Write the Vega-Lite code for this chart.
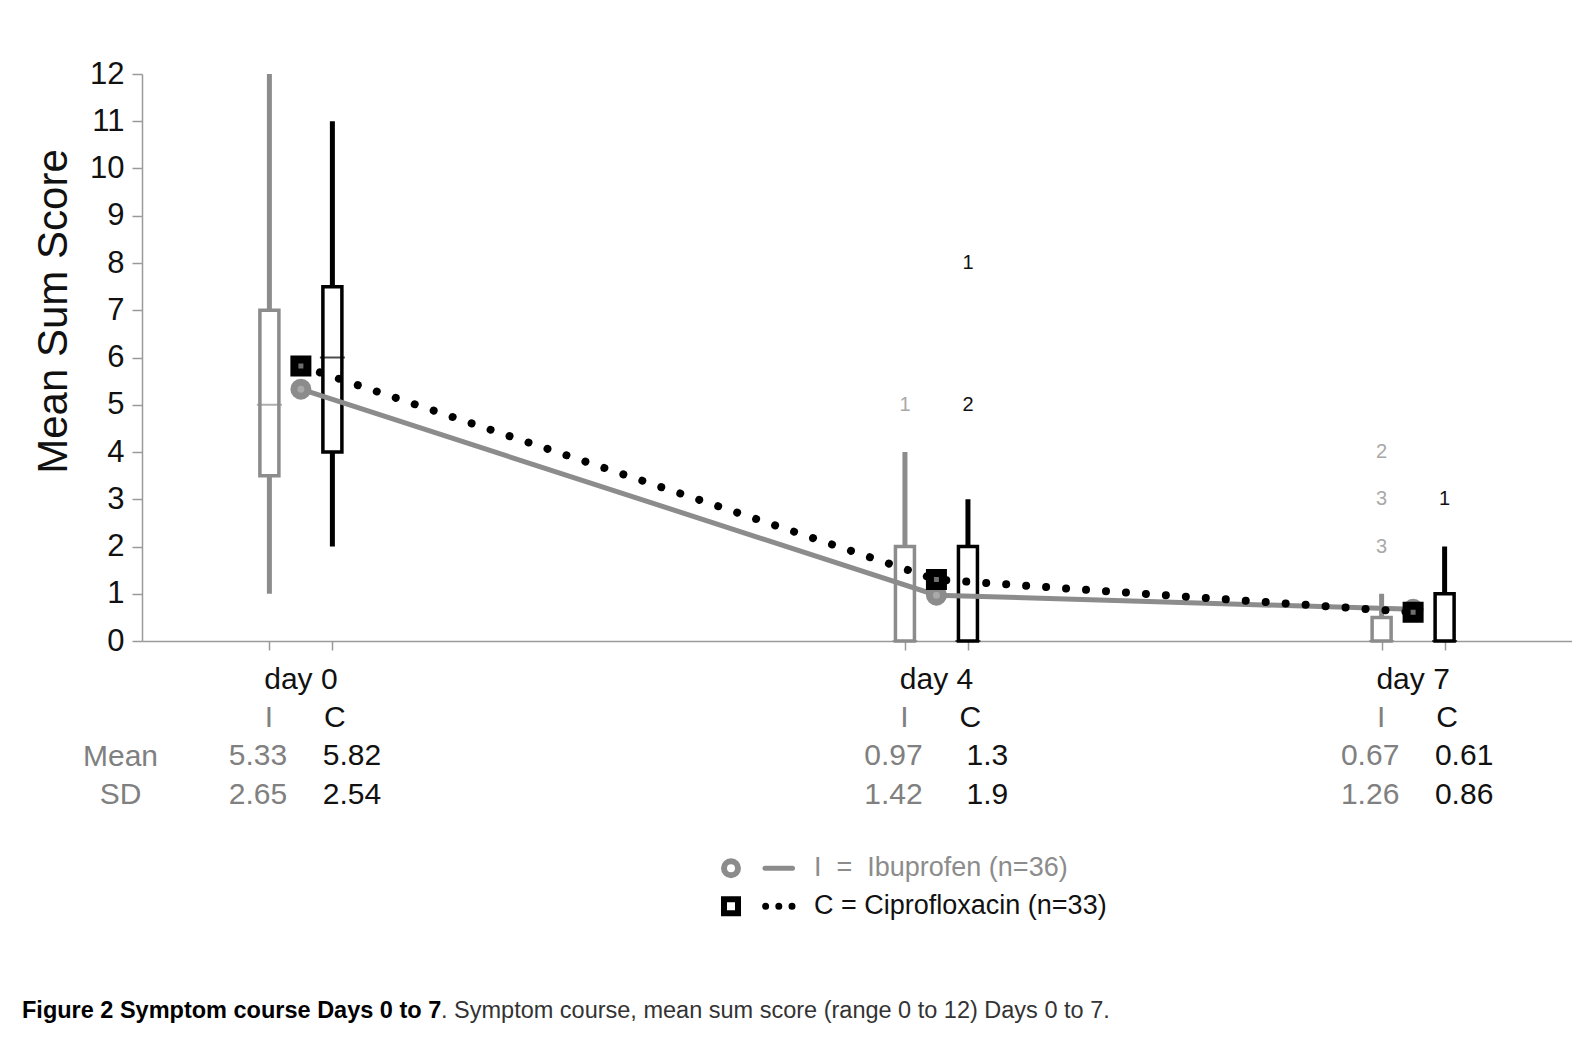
{
  "$schema": "https://vega.github.io/schema/vega-lite/v6.json",
  "padding": {"left": 22, "top": 58, "right": 0, "bottom": 0},
  "background": "white",
  "spacing": 35,
  "bounds": "flush",
  "config": {"view": {"stroke": null}, "font": "Liberation Sans"},
  "resolve": {"scale": {"x": "independent", "y": "independent", "color": "independent", "xOffset": "independent", "stroke": "independent", "shape": "independent", "fill": "independent"}},
  "datasets": {
    "boxes": [
      {"day": 0, "drug": "I", "lo": 1, "q1": 3.5, "med": 5, "q3": 7, "hi": 12},
      {"day": 0, "drug": "C", "lo": 2, "q1": 4, "med": 6, "q3": 7.5, "hi": 11},
      {"day": 4, "drug": "I", "lo": 0, "q1": 0, "med": 0, "q3": 2, "hi": 4},
      {"day": 4, "drug": "C", "lo": 0, "q1": 0, "med": 0, "q3": 2, "hi": 3},
      {"day": 7, "drug": "I", "lo": 0, "q1": 0, "med": 0, "q3": 0.5, "hi": 1},
      {"day": 7, "drug": "C", "lo": 0, "q1": 0, "med": 0, "q3": 1, "hi": 2}
    ],
    "means": [
      {"day": 0, "drug": "I", "mean": 5.33, "sd": 2.65},
      {"day": 0, "drug": "C", "mean": 5.82, "sd": 2.54},
      {"day": 4, "drug": "I", "mean": 0.97, "sd": 1.42},
      {"day": 4, "drug": "C", "mean": 1.3, "sd": 1.9},
      {"day": 7, "drug": "I", "mean": 0.67, "sd": 1.26},
      {"day": 7, "drug": "C", "mean": 0.61, "sd": 0.86}
    ],
    "outliers": [
      {"day": 4, "drug": "I", "score": 5, "n": 1},
      {"day": 4, "drug": "C", "score": 5, "n": 2},
      {"day": 4, "drug": "C", "score": 8, "n": 1},
      {"day": 7, "drug": "I", "score": 2, "n": 3},
      {"day": 7, "drug": "I", "score": 3, "n": 3},
      {"day": 7, "drug": "I", "score": 4, "n": 2},
      {"day": 7, "drug": "C", "score": 3, "n": 1}
    ],
    "days": [
      {"day": 0, "label": "day 0"},
      {"day": 4, "label": "day 4"},
      {"day": 7, "label": "day 7"}
    ],
    "legend": [
      {"drug": "I", "label": "I\u00a0\u00a0=\u00a0\u00a0Ibuprofen (n=36)"},
      {"drug": "C", "label": "C = Ciprofloxacin (n=33)"}
    ],
    "caption": [
      {"part": "head", "text": "Figure 2 Symptom course Days 0 to 7"},
      {"part": "body", "text": ". Symptom course, mean sum score (range 0 to 12) Days 0 to 7."}
    ]
  },
  "vconcat": [
    {
      "width": 1430,
      "height": 567,
      "resolve": {"axis": {"x": "independent"}},
      "layer": [
        {
          "data": {"name": "boxes"},
          "mark": {"type": "rule", "strokeWidth": 5},
          "encoding": {
            "x": {"field": "day", "type": "ordinal", "scale": {"type": "point", "domain": [-1, 0, 1, 2, 3, 4, 5, 6, 7, 8], "padding": 0},
                  "axis": {"orient": "bottom", "values": [0, 4, 7], "tickOffset": -31.5, "labels": false, "tickSize": 9, "tickColor": "#9a9a9a", "tickWidth": 1.5, "domainColor": "#9a9a9a", "domainWidth": 1.5, "title": null, "grid": false}},
            "xOffset": {"field": "drug", "type": "nominal", "scale": {"type": "point", "domain": ["I", "C"], "range": [-31.5, 31.5], "padding": 0}},
            "y": {"field": "lo", "type": "quantitative", "scale": {"domain": [0, 12], "nice": false, "zero": true},
                  "axis": {"values": [0, 1, 2, 3, 4, 5, 6, 7, 8, 9, 10, 11, 12], "domainColor": "#9a9a9a", "domainWidth": 1.5, "tickColor": "#9a9a9a", "tickSize": 10, "tickWidth": 1.5, "labelFontSize": 31, "labelColor": "#111111", "labelPadding": 8, "labelFont": "Liberation Sans", "grid": false,
                           "title": "Mean Sum Score", "titleFontSize": 42, "titleFontWeight": "normal", "titleColor": "#111111", "titleFont": "Liberation Sans", "titleX": -89, "titleY": 237, "titleAngle": -90, "titleBaseline": "middle", "titleAlign": "center"}},
            "y2": {"field": "hi"},
            "color": {"field": "drug", "type": "nominal", "scale": {"domain": ["I", "C"], "range": ["#8c8c8c", "#000000"]}, "legend": null}
          }
        },
        {
          "data": {"name": "boxes"},
          "mark": {"type": "bar", "width": 19, "fill": "white", "strokeWidth": 3.5, "orient": "vertical"},
          "encoding": {
            "x": {"field": "day", "type": "ordinal", "scale": {"type": "point", "domain": [-1, 0, 1, 2, 3, 4, 5, 6, 7, 8], "padding": 0},
                  "axis": {"orient": "bottom", "values": [0, 4, 7], "tickOffset": 31.5, "labels": false, "domain": false, "tickSize": 9, "tickColor": "#9a9a9a", "tickWidth": 1.5, "title": null, "grid": false}},
            "xOffset": {"field": "drug", "type": "nominal", "scale": {"type": "point", "domain": ["I", "C"], "range": [-31.5, 31.5], "padding": 0}},
            "y": {"field": "q1", "type": "quantitative"},
            "y2": {"field": "q3"},
            "stroke": {"field": "drug", "type": "nominal", "scale": {"domain": ["I", "C"], "range": ["#8c8c8c", "#000000"]}, "legend": null}
          }
        },
        {
          "data": {"name": "boxes"},
          "mark": {"type": "tick", "orient": "horizontal", "size": 25, "thickness": 2},
          "encoding": {
            "x": {"field": "day", "type": "ordinal", "scale": {"type": "point", "domain": [-1, 0, 1, 2, 3, 4, 5, 6, 7, 8], "padding": 0}, "axis": null},
            "xOffset": {"field": "drug", "type": "nominal", "scale": {"type": "point", "domain": ["I", "C"], "range": [-31.5, 31.5], "padding": 0}},
            "y": {"field": "med", "type": "quantitative"},
            "color": {"field": "drug", "type": "nominal", "legend": null}
          }
        },
        {
          "data": {"name": "means"},
          "transform": [{"filter": "datum.drug === 'I'"}],
          "mark": {"type": "line", "color": "#8c8c8c", "strokeWidth": 5},
          "encoding": {"x": {"field": "day", "type": "ordinal", "scale": {"type": "point", "domain": [-1, 0, 1, 2, 3, 4, 5, 6, 7, 8], "padding": 0}, "axis": null}, "y": {"field": "mean", "type": "quantitative"}}
        },
        {
          "data": {"name": "means"},
          "transform": [{"filter": "datum.drug === 'C'"}],
          "mark": {"type": "line", "color": "#000000", "strokeWidth": 8, "strokeDash": [0.01, 20], "strokeCap": "round"},
          "encoding": {"x": {"field": "day", "type": "ordinal", "scale": {"type": "point", "domain": [-1, 0, 1, 2, 3, 4, 5, 6, 7, 8], "padding": 0}, "axis": null}, "y": {"field": "mean", "type": "quantitative"}}
        },
        {
          "data": {"name": "means"},
          "transform": [{"filter": "datum.drug === 'I'"}],
          "mark": {"type": "point", "shape": "circle", "fill": "#a9a9a9", "stroke": "#8c8c8c", "strokeWidth": 7, "size": 196, "opacity": 1},
          "encoding": {"x": {"field": "day", "type": "ordinal", "scale": {"type": "point", "domain": [-1, 0, 1, 2, 3, 4, 5, 6, 7, 8], "padding": 0}, "axis": null}, "y": {"field": "mean", "type": "quantitative"}}
        },
        {
          "data": {"name": "means"},
          "transform": [{"filter": "datum.drug === 'C'"}],
          "mark": {"type": "point", "shape": "square", "fill": "#6e6e6e", "stroke": "#000000", "strokeWidth": 8, "size": 169, "opacity": 1},
          "encoding": {"x": {"field": "day", "type": "ordinal", "scale": {"type": "point", "domain": [-1, 0, 1, 2, 3, 4, 5, 6, 7, 8], "padding": 0}, "axis": null}, "y": {"field": "mean", "type": "quantitative"}}
        },
        {
          "data": {"name": "outliers"},
          "mark": {"type": "text", "fontSize": 20, "baseline": "middle"},
          "encoding": {
            "x": {"field": "day", "type": "ordinal", "scale": {"type": "point", "domain": [-1, 0, 1, 2, 3, 4, 5, 6, 7, 8], "padding": 0}, "axis": null},
            "xOffset": {"field": "drug", "type": "nominal", "scale": {"type": "point", "domain": ["I", "C"], "range": [-31.5, 31.5], "padding": 0}},
            "y": {"field": "score", "type": "quantitative"},
            "text": {"field": "n", "type": "nominal"},
            "fill": {"field": "drug", "type": "nominal", "scale": {"domain": ["I", "C"], "range": ["#a8a8a8", "#111111"]}, "legend": null}
          }
        }
      ]
    },
    {
      "width": 1430,
      "height": 122.6,
      "resolve": {"scale": {"xOffset": "independent"}},
      "layer": [
        {
          "data": {"name": "days"},
          "mark": {"type": "text", "fontSize": 30, "color": "#111111", "baseline": "middle"},
          "encoding": {
            "x": {"field": "day", "type": "ordinal", "scale": {"type": "point", "domain": [-1, 0, 1, 2, 3, 4, 5, 6, 7, 8], "padding": 0}, "axis": null},
            "y": {"datum": "day", "type": "ordinal", "scale": {"type": "point", "domain": ["day", "grp", "Mean", "SD"], "padding": 0.1},
                  "axis": {"title": null, "domain": false, "ticks": false, "labelExpr": "datum.value === 'Mean' || datum.value === 'SD' ? datum.value : ''", "labelFontSize": 30, "labelColor": "#808080", "labelAlign": "center", "labelPadding": 22, "labelBaseline": "middle"}},
            "text": {"field": "label"}
          }
        },
        {
          "data": {"name": "means"},
          "mark": {"type": "text", "fontSize": 30, "baseline": "middle"},
          "encoding": {
            "x": {"field": "day", "type": "ordinal", "scale": {"type": "point", "domain": [-1, 0, 1, 2, 3, 4, 5, 6, 7, 8], "padding": 0}},
            "xOffset": {"field": "drug", "type": "nominal", "scale": {"type": "point", "domain": ["I", "C"], "range": [-32, 34], "padding": 0}},
            "y": {"datum": "grp", "type": "ordinal"},
            "text": {"field": "drug"},
            "fill": {"field": "drug", "type": "nominal", "scale": {"domain": ["I", "C"], "range": ["#808080", "#111111"]}, "legend": null}
          }
        },
        {
          "data": {"name": "means"},
          "mark": {"type": "text", "fontSize": 30, "baseline": "middle"},
          "encoding": {
            "x": {"field": "day", "type": "ordinal", "scale": {"type": "point", "domain": [-1, 0, 1, 2, 3, 4, 5, 6, 7, 8], "padding": 0}},
            "xOffset": {"field": "drug", "type": "nominal", "scale": {"type": "point", "domain": ["I", "C"], "range": [-43, 51], "padding": 0}},
            "y": {"datum": "Mean", "type": "ordinal"},
            "text": {"field": "mean", "type": "nominal"},
            "fill": {"field": "drug", "type": "nominal", "legend": null}
          }
        },
        {
          "data": {"name": "means"},
          "mark": {"type": "text", "fontSize": 30, "baseline": "middle"},
          "encoding": {
            "x": {"field": "day", "type": "ordinal", "scale": {"type": "point", "domain": [-1, 0, 1, 2, 3, 4, 5, 6, 7, 8], "padding": 0}},
            "xOffset": {"field": "drug", "type": "nominal", "scale": {"type": "point", "domain": ["I", "C"], "range": [-43, 51], "padding": 0}},
            "y": {"datum": "SD", "type": "ordinal"},
            "text": {"field": "sd", "type": "nominal"},
            "fill": {"field": "drug", "type": "nominal", "legend": null}
          }
        }
      ]
    },
    {
      "width": 1430,
      "height": 106.4,
      "data": {"name": "legend"},
      "encoding": {"y": {"field": "drug", "type": "nominal", "scale": {"type": "point", "domain": ["I", "C"], "padding": 0.9}, "axis": null}},
      "layer": [
        {
          "mark": {"type": "point", "fill": "white", "strokeWidth": 6, "size": 196, "opacity": 1},
          "encoding": {
            "x": {"datum": "marker", "type": "ordinal", "scale": {"type": "point", "domain": ["marker", "label"], "range": [589, 672], "padding": 0}, "axis": null},
            "shape": {"field": "drug", "type": "nominal", "scale": {"domain": ["I", "C"], "range": ["circle", "square"]}, "legend": null},
            "stroke": {"field": "drug", "type": "nominal", "scale": {"domain": ["I", "C"], "range": ["#8c8c8c", "#000000"]}, "legend": null}
          }
        },
        {
          "transform": [{"filter": "datum.drug === 'I'"}],
          "mark": {"type": "point", "shape": "M3.4,0L6.15,0", "size": 400, "stroke": "#8c8c8c", "strokeWidth": 5, "strokeCap": "round", "opacity": 1},
          "encoding": {"x": {"datum": "marker", "type": "ordinal"}}
        },
        {
          "transform": [{"filter": "datum.drug === 'C'"}],
          "mark": {"type": "point", "shape": "M3.46,0L6.2,0", "size": 400, "stroke": "#000000", "strokeWidth": 7, "strokeCap": "round", "strokeDash": [0.01, 13.19], "opacity": 1},
          "encoding": {"x": {"datum": "marker", "type": "ordinal"}}
        },
        {
          "mark": {"type": "text", "align": "left", "baseline": "middle", "fontSize": 27},
          "encoding": {
            "x": {"datum": "label", "type": "ordinal"},
            "text": {"field": "label"},
            "fill": {"field": "drug", "type": "nominal", "scale": {"domain": ["I", "C"], "range": ["#8c8c8c", "#111111"]}, "legend": null}
          }
        }
      ]
    },
    {
      "width": 1430,
      "height": 70,
      "data": {"name": "caption"},
      "layer": [
        {
          "transform": [{"filter": "datum.part === 'head'"}],
          "mark": {"type": "text", "align": "left", "baseline": "middle", "fontSize": 23.5, "fontWeight": "bold", "color": "#000000"},
          "encoding": {
            "x": {"field": "part", "type": "ordinal", "scale": {"type": "point", "domain": ["head", "body"], "range": [-120, 299], "padding": 0}, "axis": null},
            "text": {"field": "text"}
          }
        },
        {
          "transform": [{"filter": "datum.part === 'body'"}],
          "mark": {"type": "text", "align": "left", "baseline": "middle", "fontSize": 23.5, "fontWeight": "normal", "color": "#333333"},
          "encoding": {
            "x": {"field": "part", "type": "ordinal"},
            "text": {"field": "text"}
          }
        }
      ]
    }
  ]
}
